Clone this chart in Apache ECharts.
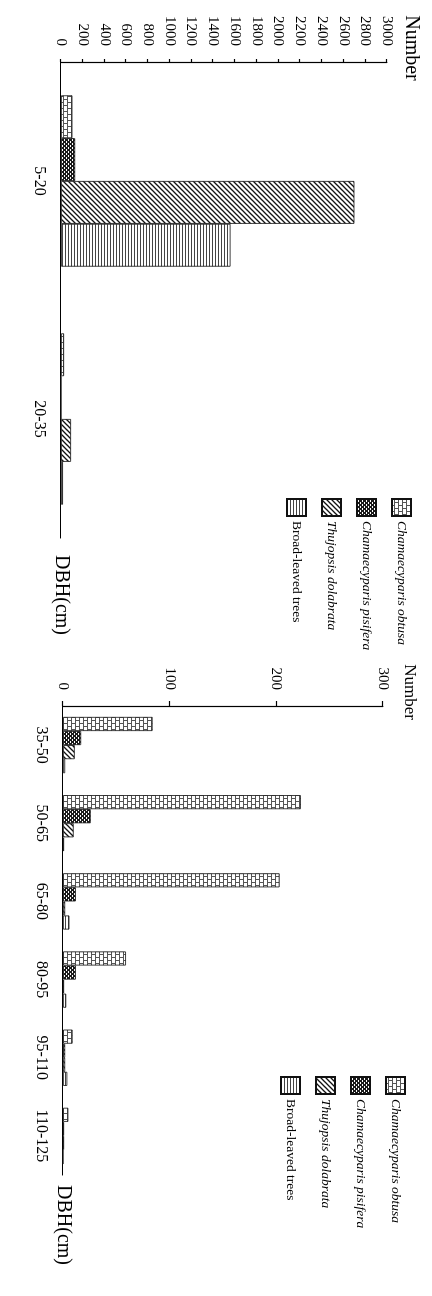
<!DOCTYPE html>
<html>
<head>
<meta charset="utf-8">
<script src="https://cdn.jsdelivr.net/npm/echarts@6/dist/echarts.min.js"></script>
<style>
  html, body { margin: 0; padding: 0; background: #fff; overflow: hidden; }
  body { width: 432px; height: 1296px; position: relative; }
  /* the figure is laid out landscape and turned a quarter turn clockwise */
  #main {
    position: absolute; left: 0; top: 0;
    width: 1296px; height: 432px;
    transform-origin: 0 0;
    transform: translate(432px, 0) rotate(90deg);
  }
</style>
</head>
<body>
<div id="main"></div>
<script>
"use strict";
var species = ["Chamaecyparis obtusa", "Chamaecyparis pisifera", "Thujopsis dolabrata", "Broad-leaved trees"];

// small trees (left panel)
var classesSmall = ["5-20", "20-35"];
var obtusaSmall = [105, 28];
var pisiferaSmall = [130, 0];
var thujopsisSmall = [2700, 92];
var broadSmall = [1560, 18];
var ticksSmall = { min: 0, max: 3000, interval: 200 };

// large trees (right panel)
var classesLarge = ["35-50", "50-65", "65-80", "80-95", "95-110", "110-125"];
var obtusaLarge = [84, 223, 203, 59, 9, 5];
var pisiferaLarge = [17, 26, 12, 12, 2, 1];
var thujopsisLarge = [11, 10, 2, 1, 2, 1];
var broadLarge = [2, 1, 6, 3, 4, 0];
var ticksLarge = { min: 0, max: 300, interval: 100 };

var FONT = "Liberation Serif";

function makePattern(kind) {
  var c = document.createElement("canvas");
  var ctx = c.getContext("2d");
  if (kind === "brick") {
    c.width = 6; c.height = 8;
    ctx.fillStyle = "#fff"; ctx.fillRect(0, 0, 6, 8);
    ctx.fillStyle = "#555";
    ctx.fillRect(0, 0, 6, 1);
    ctx.fillRect(0, 4, 6, 1);
    ctx.fillRect(0, 0, 1, 4);
    ctx.fillRect(3, 4, 1, 4);
  } else if (kind === "dots") {
    c.width = 4; c.height = 4;
    ctx.fillStyle = "#1a1a1a"; ctx.fillRect(0, 0, 4, 4);
    ctx.fillStyle = "#fff";
    ctx.fillRect(1, 1, 1, 1);
    ctx.fillRect(3, 3, 1, 1);
    ctx.fillRect(2, 1, 1, 1);
    ctx.fillRect(0, 3, 1, 1);
  } else if (kind === "diag") {
    c.width = 5; c.height = 5;
    ctx.fillStyle = "#fff"; ctx.fillRect(0, 0, 5, 5);
    ctx.strokeStyle = "#111"; ctx.lineWidth = 1.3;
    ctx.beginPath();
    ctx.moveTo(0, 5); ctx.lineTo(5, 0);
    ctx.moveTo(-1, 1); ctx.lineTo(1, -1);
    ctx.moveTo(4, 6); ctx.lineTo(6, 4);
    ctx.stroke();
  } else {
    c.width = 3; c.height = 3;
    ctx.fillStyle = "#fff"; ctx.fillRect(0, 0, 3, 3);
    ctx.fillStyle = "#444"; ctx.fillRect(0, 0, 3, 1);
  }
  return { image: c, repeat: "repeat" };
}

var fills = [makePattern("brick"), makePattern("dots"), makePattern("diag"), makePattern("lines")];

var chartDom = document.getElementById("main");
var myChart = echarts.init(chartDom, null, { renderer: "canvas" });

function valueAxis(idx, ticks, nameSize, nameGap, tickLen) {
  return {
    type: "value",
    gridIndex: idx,
    min: ticks.min,
    max: ticks.max,
    interval: ticks.interval,
    name: "Number",
    nameLocation: "end",
    nameGap: nameGap,
    nameTextStyle: { fontFamily: FONT, fontSize: nameSize, color: "#000", padding: [0, 28, 0, 0] },
    axisLine: { show: true, lineStyle: { color: "#000", width: 1.2 } },
    axisTick: { show: true, length: tickLen, lineStyle: { color: "#000", width: 1.2 } },
    axisLabel: {
      margin: 16, fontFamily: FONT, fontSize: 15, color: "#000",
      formatter: function (v) { return String(v); },
    },
    splitLine: { show: false },
  };
}

function categoryAxis(idx, cats, nameGap, tickLen) {
  return {
    type: "category",
    gridIndex: idx,
    data: cats,
    name: "DBH(cm)",
    nameLocation: "end",
    nameGap: nameGap,
    nameTextStyle: { fontFamily: FONT, fontSize: 20, color: "#000" },
    axisLine: { lineStyle: { color: "#000", width: 1.2 } },
    axisTick: { length: tickLen, lineStyle: { color: "#000", width: 1.2 } },
    axisLabel: { interval: 0, margin: 14, fontFamily: FONT, fontSize: 16, color: "#000" },
  };
}

function barSeries(name, data, k, gridIdx) {
  return {
    name: name,
    type: "bar",
    xAxisIndex: gridIdx,
    yAxisIndex: gridIdx,
    data: data,
    barGap: "0%",
    barCategoryGap: "28%",
    itemStyle: { color: fills[k], borderColor: "#111", borderWidth: 0.8 },
    emphasis: { disabled: true },
  };
}

function legendAt(left, top) {
  return {
    data: species,
    orient: "vertical",
    left: left,
    top: top,
    icon: "rect",
    itemWidth: 17,
    itemHeight: 19,
    itemGap: 14,
    selectedMode: false,
    formatter: function (name) {
      return name === "Broad-leaved trees" ? "{n|" + name + "}" : "{i|" + name + "}";
    },
    textStyle: {
      fontFamily: FONT,
      fontSize: 13.5,
      color: "#000",
      rich: {
        i: { fontFamily: FONT, fontSize: 13.5, fontStyle: "italic", color: "#000" },
        n: { fontFamily: FONT, fontSize: 13.5, color: "#000" },
      },
    },
  };
}

var smallSets = [obtusaSmall, pisiferaSmall, thujopsisSmall, broadSmall];
var largeSets = [obtusaLarge, pisiferaLarge, thujopsisLarge, broadLarge];
var series = [];
species.forEach(function (s, k) { series.push(barSeries(s, smallSets[k], k, 0)); });
species.forEach(function (s, k) { series.push(barSeries(s, largeSets[k], k, 1)); });

var option = {
  backgroundColor: "#fff",
  animation: false,
  grid: [
    { left: 62, top: 45, width: 476, height: 326 },
    { left: 706, top: 49, width: 469, height: 320 },
  ],
  xAxis: [categoryAxis(0, classesSmall, 17, 4), categoryAxis(1, classesLarge, 10, 7)],
  yAxis: [valueAxis(0, ticksSmall, 20, 14, 3), valueAxis(1, ticksLarge, 17, 18, 5)],
  legend: [legendAt(493, 15), legendAt(1071, 21)],
  series: series,
};

option && myChart.setOption(option);
</script>
</body>
</html>
